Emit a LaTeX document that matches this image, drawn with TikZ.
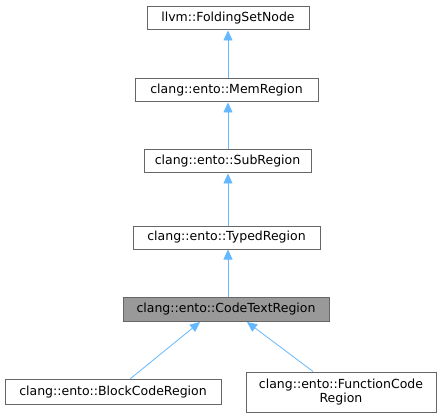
\documentclass[tikz,border=0pt]{standalone}
\usepackage{fontspec}
\setmainfont{DejaVu Sans}
\usetikzlibrary{arrows.meta}
\definecolor{edgeblue}{HTML}{63B8FF}
\definecolor{boxline}{HTML}{666666}
\definecolor{boxfill}{HTML}{999999}
\begin{document}
\begin{tikzpicture}[x=1pt,y=-1pt,
  cls/.style={draw=boxline,line width=1pt,fill=white,inner sep=0pt,minimum height=23pt,align=center,font=\fontsize{12.5}{14.5}\selectfont},
  arr/.style={draw=edgeblue,line width=0.8pt,-{Triangle[length=10pt,width=9pt]}}]
\useasboundingbox (0,0) rectangle (442,417);
\node[cls,minimum width=162pt] (fsn) at (228,18.5) {llvm::FoldingSetNode};
\node[cls,minimum width=183pt] (mem) at (226.5,90.5) {clang::ento::MemRegion};
\node[cls,minimum width=167pt] (sub) at (227.5,161.5) {clang::ento::SubRegion};
\node[cls,minimum width=187pt] (typed) at (226.5,237.5) {clang::ento::TypedRegion};
\node[cls,fill=boxfill,minimum width=206pt,minimum height=24pt] (code) at (226,309.5) {clang::ento::CodeTextRegion};
\node[cls,minimum width=216pt,minimum height=25pt] (block) at (113,392) {clang::ento::BlockCodeRegion};
\node[cls,minimum width=190pt,minimum height=40pt] (func) at (341,392) {clang::ento::FunctionCode\\Region};
\draw[arr] (mem.north -| fsn.south) -- (fsn.south);
\draw[arr] (sub.north -| fsn.south) -- (mem.south -| fsn.south);
\draw[arr] (typed.north -| fsn.south) -- (sub.south -| fsn.south);
\draw[arr] (code.north -| fsn.south) -- (typed.south -| fsn.south);
\draw[arr] ([xshift=17pt]block.north) -- ([xshift=-26pt]code.south);
\draw[arr] ([xshift=-28pt]func.north) -- ([xshift=21pt]code.south);
\end{tikzpicture}
\end{document}
